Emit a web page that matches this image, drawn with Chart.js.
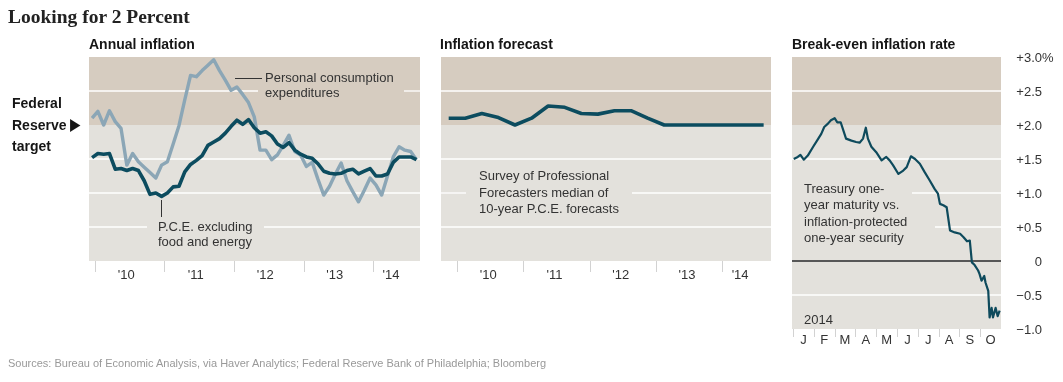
<!DOCTYPE html>
<html>
<head>
<meta charset="utf-8">
<script src="https://cdn.jsdelivr.net/npm/chart.js@4.4.0/dist/chart.umd.min.js"></script>
<style>
html,body{margin:0;padding:0;background:#fff;}
#wrap{position:relative;width:1063px;height:382px;overflow:hidden;font-family:"Liberation Sans",Arial,sans-serif;color:#333;}
canvas{position:absolute;left:0;top:0;}
.t{position:absolute;white-space:nowrap;font-size:13px;line-height:15px;color:#333;z-index:5;}
.h{position:absolute;white-space:nowrap;font-weight:bold;font-size:14px;line-height:16px;color:#151515;z-index:5;}
.title{position:absolute;left:8px;top:6px;white-space:nowrap;font-family:"Liberation Serif","Times New Roman",serif;font-weight:bold;font-size:19.5px;line-height:22px;color:#222;z-index:5;}
.foot{position:absolute;left:8px;top:357px;white-space:nowrap;font-size:11px;line-height:13px;color:#999;z-index:5;}
.tri{position:absolute;left:70px;top:114px;font-family:"DejaVu Sans",sans-serif;font-size:17px;line-height:20px;color:#151515;z-index:5;transform:scaleX(0.8);transform-origin:left center;}
.lead{position:absolute;background:#333;z-index:5;}
</style>
</head>
<body>
<div id="wrap">
  <canvas id="c1" width="1063" height="382"></canvas>
  <canvas id="c2" width="1063" height="382"></canvas>
  <canvas id="c3" width="1063" height="382"></canvas>

  <div class="title">Looking for 2 Percent</div>
  <div class="h" style="left:89px;top:36px;">Annual inflation</div>
  <div class="h" style="left:440px;top:36px;">Inflation forecast</div>
  <div class="h" style="left:792px;top:36px;">Break-even inflation rate</div>

  <div class="h" style="left:12px;top:95px;">Federal</div>
  <div class="h" style="left:12px;top:117px;">Reserve</div>
  <div class="tri">&#9654;</div>
  <div class="h" style="left:12px;top:138px;">target</div>

  <div class="t" style="left:265px;top:71px;line-height:14.5px;">Personal consumption<br>expenditures</div>
  <div class="lead" style="left:235px;top:78px;width:27px;height:1px;"></div>

  <div class="t" style="left:158px;top:219px;">P.C.E. excluding<br>food and energy</div>
  <div class="lead" style="left:161px;top:200px;width:1px;height:17px;"></div>

  <div class="t" style="left:479px;top:168px;line-height:16.5px;">Survey of Professional<br>Forecasters median of<br>10-year P.C.E. forecasts</div>

  <div class="t" style="left:804px;top:181px;line-height:16.3px;">Treasury one-<br>year maturity vs.<br>inflation-protected<br>one-year security</div>
  <div class="t" style="left:804px;top:312px;">2014</div>

  <div class="foot">Sources: Bureau of Economic Analysis, via Haver Analytics; Federal Reserve Bank of Philadelphia; Bloomberg</div>
</div>

<script>
// ---------------- DATA ----------------
const monthLabels = [
  "2009-12",
  "2010-01","2010-02","2010-03","2010-04","2010-05","2010-06","2010-07","2010-08","2010-09","2010-10","2010-11","2010-12",
  "2011-01","2011-02","2011-03","2011-04","2011-05","2011-06","2011-07","2011-08","2011-09","2011-10","2011-11","2011-12",
  "2012-01","2012-02","2012-03","2012-04","2012-05","2012-06","2012-07","2012-08","2012-09","2012-10","2012-11","2012-12",
  "2013-01","2013-02","2013-03","2013-04","2013-05","2013-06","2013-07","2013-08","2013-09","2013-10","2013-11","2013-12",
  "2014-01","2014-02","2014-03","2014-04","2014-05","2014-06","2014-07","2014-08"
];
// Personal consumption expenditures, annual % change
const pceAll = [
  2.10,
  2.20,2.00,2.21,2.05,1.95,1.41,1.58,1.46,1.38,1.30,1.22,1.41,
  1.46,1.72,1.99,2.37,2.73,2.71,2.80,2.88,2.96,2.80,2.66,2.51,
  2.56,2.45,2.33,2.12,1.63,1.63,1.49,1.56,1.70,1.85,1.61,1.56,
  1.39,1.45,1.20,0.97,1.10,1.28,1.44,1.18,1.02,0.87,1.04,1.22,
  1.12,0.97,1.25,1.53,1.68,1.63,1.61,1.49
];
// P.C.E. excluding food and energy
const pceCore = [
  1.52,
  1.58,1.57,1.58,1.35,1.36,1.33,1.36,1.33,1.18,0.98,1.00,0.95,
  1.00,1.09,1.10,1.31,1.42,1.48,1.55,1.70,1.75,1.80,1.88,1.98,
  2.07,2.01,2.08,1.96,1.88,1.90,1.84,1.72,1.67,1.74,1.63,1.57,
  1.53,1.51,1.43,1.32,1.29,1.28,1.29,1.33,1.35,1.28,1.32,1.36,
  1.25,1.25,1.28,1.45,1.53,1.53,1.53,1.49
];

const quarterLabels = [
  "2009Q4","2010Q1","2010Q2","2010Q3","2010Q4","2011Q1","2011Q2","2011Q3","2011Q4","2012Q1",
  "2012Q2","2012Q3","2012Q4","2013Q1","2013Q2","2013Q3","2013Q4","2014Q1","2014Q2","2014Q3"
];
// Survey of Professional Forecasters median 10-year P.C.E. forecast
const spfForecast = [
  2.10,2.10,2.17,2.11,2.00,2.10,2.28,2.26,2.17,2.16,
  2.21,2.21,2.10,2.00,2.00,2.00,2.00,2.00,2.00,2.00
];

// Break-even inflation rate 2014
const beDates = [
  "2014-01-02","2014-01-08","2014-01-12","2014-01-17","2014-01-23","2014-01-31",
  "2014-02-07","2014-02-11","2014-02-15","2014-02-20","2014-02-24",
  "2014-03-01","2014-03-05","2014-03-10","2014-03-13","2014-03-18","2014-03-26",
  "2014-04-02","2014-04-07","2014-04-12","2014-04-16","2014-04-19","2014-04-24",
  "2014-05-01","2014-05-09","2014-05-16","2014-05-21","2014-05-26",
  "2014-06-03","2014-06-10","2014-06-15","2014-06-21","2014-06-27",
  "2014-07-04","2014-07-11","2014-07-19","2014-07-26","2014-07-31",
  "2014-08-03","2014-08-08","2014-08-13","2014-08-18","2014-08-25",
  "2014-09-02","2014-09-07","2014-09-12","2014-09-16","2014-09-19","2014-09-23","2014-09-28","2014-09-30",
  "2014-10-03","2014-10-07","2014-10-09","2014-10-13","2014-10-15","2014-10-18","2014-10-20","2014-10-24","2014-10-27","2014-10-30"
];
const beRate = [
  1.50,1.53,1.56,1.49,1.55,1.68,
  1.80,1.87,1.97,2.02,2.07,
  2.10,2.04,2.04,1.95,1.80,1.77,
  1.75,1.74,1.80,1.96,1.80,1.68,
  1.60,1.48,1.53,1.48,1.41,
  1.28,1.33,1.38,1.54,1.50,
  1.43,1.31,1.18,1.06,0.99,
  0.84,0.82,0.79,0.45,0.42,
  0.40,0.35,0.29,0.30,-0.02,-0.06,-0.14,-0.19,
  -0.29,-0.22,-0.32,-0.44,-0.83,-0.69,-0.83,-0.69,-0.81,-0.73
];

const yearTickLabels = ["'10","'11","'12","'13","'14"];
const yearTicks = [2010,2011,2012,2013,2014];
const monthTickLabels = ["J","F","M","A","M","J","J","A","S","O"];
const rateTickValues = [-1,-0.5,0,0.5,1,1.5,2,2.5,3];
const rateTickLabels = ["\u22121.0","\u22120.5","0","+0.5","+1.0","+1.5","+2.0","+2.5","+3.0%"];

// ---------------- HELPERS ----------------
function monthToYear(s){ const [y,m]=s.split('-').map(Number); return y+(m-1)/12+1/24; }
function quarterToYear(s){ const y=+s.slice(0,4), q=+s.slice(5); return y+(q-1)/4+0.125; }
function dateToMonth(s){ const [y,m,d]=s.split('-').map(Number); const dim=new Date(y,m,0).getDate(); return (m-1)+(d-1)/dim; }

const BAND_HIGH = '#d6ccc0';
const BAND_LOW = '#e3e1dc';
const DARK = '#0c4c5f';
const LIGHT = '#8ba6b6';
const FONT = "13px 'Liberation Sans', Arial, sans-serif";

function decor(opt){
  return {
    id: 'decor',
    beforeDatasetsDraw(chart){
      const {ctx, chartArea:a, scales:{x,y}} = chart;
      const w = a.right - a.left;
      const y2 = y.getPixelForValue(2);
      ctx.save();
      ctx.fillStyle = BAND_HIGH; ctx.fillRect(a.left, a.top, w, y2 - a.top);
      ctx.fillStyle = BAND_LOW; ctx.fillRect(a.left, y2, w, a.bottom - y2);
      ctx.strokeStyle = '#ffffff'; ctx.lineWidth = 1.3;
      opt.grid.forEach(g => {
        const py = y.getPixelForValue(g.v);
        let start = a.left; const segs = [];
        (g.gaps || []).forEach(([g1,g2]) => { segs.push([start,g1]); start = g2; });
        segs.push([start, a.right]);
        segs.forEach(([s,e]) => { if (e > s){ ctx.beginPath(); ctx.moveTo(s,py); ctx.lineTo(e,py); ctx.stroke(); } });
      });
      if (opt.zeroLine){
        const pz = y.getPixelForValue(0);
        ctx.strokeStyle = '#575757'; ctx.lineWidth = 2;
        ctx.beginPath(); ctx.moveTo(a.left,pz); ctx.lineTo(a.right,pz); ctx.stroke();
      }
      ctx.restore();
    },
    afterDraw(chart){
      const {ctx, chartArea:a, scales:{x,y}} = chart;
      ctx.save();
      ctx.strokeStyle = '#d2d2d2'; ctx.lineWidth = 1;
      opt.tickMarks.forEach(v => {
        const px = Math.round(x.getPixelForValue(v)) + 0.5;
        ctx.beginPath(); ctx.moveTo(px, a.bottom); ctx.lineTo(px, a.bottom + opt.tickLen); ctx.stroke();
      });
      ctx.fillStyle = '#333'; ctx.font = FONT; ctx.textAlign = 'center'; ctx.textBaseline = 'alphabetic';
      opt.xLabels.forEach((t,i) => ctx.fillText(t, x.getPixelForValue(opt.xLabelPos[i]), a.bottom + opt.labelDy));
      if (opt.yLabels){
        opt.yLabels.forEach((t,i) => {
          const py = y.getPixelForValue(opt.yValues[i]) + 4.6;
          const num = t.replace('%','');
          ctx.textAlign = 'right'; ctx.fillText(num, opt.yLabelX, py);
          if (t.endsWith('%')){ ctx.textAlign = 'left'; ctx.fillText('%', opt.yLabelX, py); }
        });
      }
      ctx.restore();
    }
  };
}

function baseOptions(area, xmin, xmax, ymin, ymax){
  return {
    responsive: false, animation: false, devicePixelRatio: 1,
    layout: { padding: { left: area.l, top: area.t, right: 1063 - area.r, bottom: 382 - area.b } },
    scales: {
      x: { type: 'linear', display: false, min: xmin, max: xmax },
      y: { type: 'linear', display: false, min: ymin, max: ymax }
    },
    plugins: { legend: { display: false }, tooltip: { enabled: false } },
    elements: { point: { radius: 0 }, line: { tension: 0, borderJoinStyle: 'round', borderCapStyle: 'butt' } },
    events: []
  };
}

// ---------------- PANEL 1 ----------------
new Chart(document.getElementById('c1'), {
  type: 'line',
  data: { datasets: [
    { label: 'P.C.E. excluding food and energy', data: monthLabels.map((m,i)=>({x:monthToYear(m), y:pceCore[i]})), borderColor: DARK, borderWidth: 3.6, order: 1 },
    { label: 'Personal consumption expenditures', data: monthLabels.map((m,i)=>({x:monthToYear(m), y:pceAll[i]})), borderColor: LIGHT, borderWidth: 3.4, order: 2 }
  ]},
  options: baseOptions({l:89,t:57,r:420,b:261}, 2009.914, 2014.676, 0, 3),
  plugins: [decor({
    grid: [{v:2.5, gaps:[[258,404]]},{v:1.5},{v:1.0},{v:0.5, gaps:[[147,264]]}],
    tickMarks: yearTicks, tickLen: 11,
    xLabels: yearTickLabels, xLabelPos: [2010.45,2011.45,2012.45,2013.45,2014.26], labelDy: 18
  })]
});

// ---------------- PANEL 2 ----------------
new Chart(document.getElementById('c2'), {
  type: 'line',
  data: { datasets: [
    { label: 'Survey of Professional Forecasters', data: quarterLabels.map((q,i)=>({x:quarterToYear(q), y:spfForecast[i]})), borderColor: DARK, borderWidth: 3.6 }
  ]},
  options: baseOptions({l:441,t:57,r:771,b:261}, 2009.759, 2014.736, 0, 3),
  plugins: [decor({
    grid: [{v:2.5},{v:1.5},{v:1.0, gaps:[[466,632]]},{v:0.5}],
    tickMarks: yearTicks, tickLen: 11,
    xLabels: yearTickLabels, xLabelPos: [2010.47,2011.47,2012.47,2013.47,2014.27], labelDy: 18
  })]
});

// ---------------- PANEL 3 ----------------
new Chart(document.getElementById('c3'), {
  type: 'line',
  data: { datasets: [
    { label: 'Break-even inflation rate', data: beDates.map((d,i)=>({x:dateToMonth(d), y:beRate[i]})), borderColor: '#0e4a5c', borderWidth: 2.2 }
  ]},
  options: baseOptions({l:792,t:57,r:1001,b:329}, -0.05, 10.0, -1, 3),
  plugins: [decor({
    grid: [{v:2.5},{v:1.5},{v:1.0, gaps:[[792,912]]},{v:0.5, gaps:[[792,935]]},{v:-0.5}],
    zeroLine: true,
    tickMarks: [0,1,2,3,4,5,6,7,8,9], tickLen: 8,
    xLabels: monthTickLabels, xLabelPos: [0.5,1.5,2.5,3.5,4.5,5.5,6.5,7.5,8.5,9.5], labelDy: 15,
    yLabels: rateTickLabels, yValues: rateTickValues, yLabelX: 1042
  })]
});
</script>
</body>
</html>
